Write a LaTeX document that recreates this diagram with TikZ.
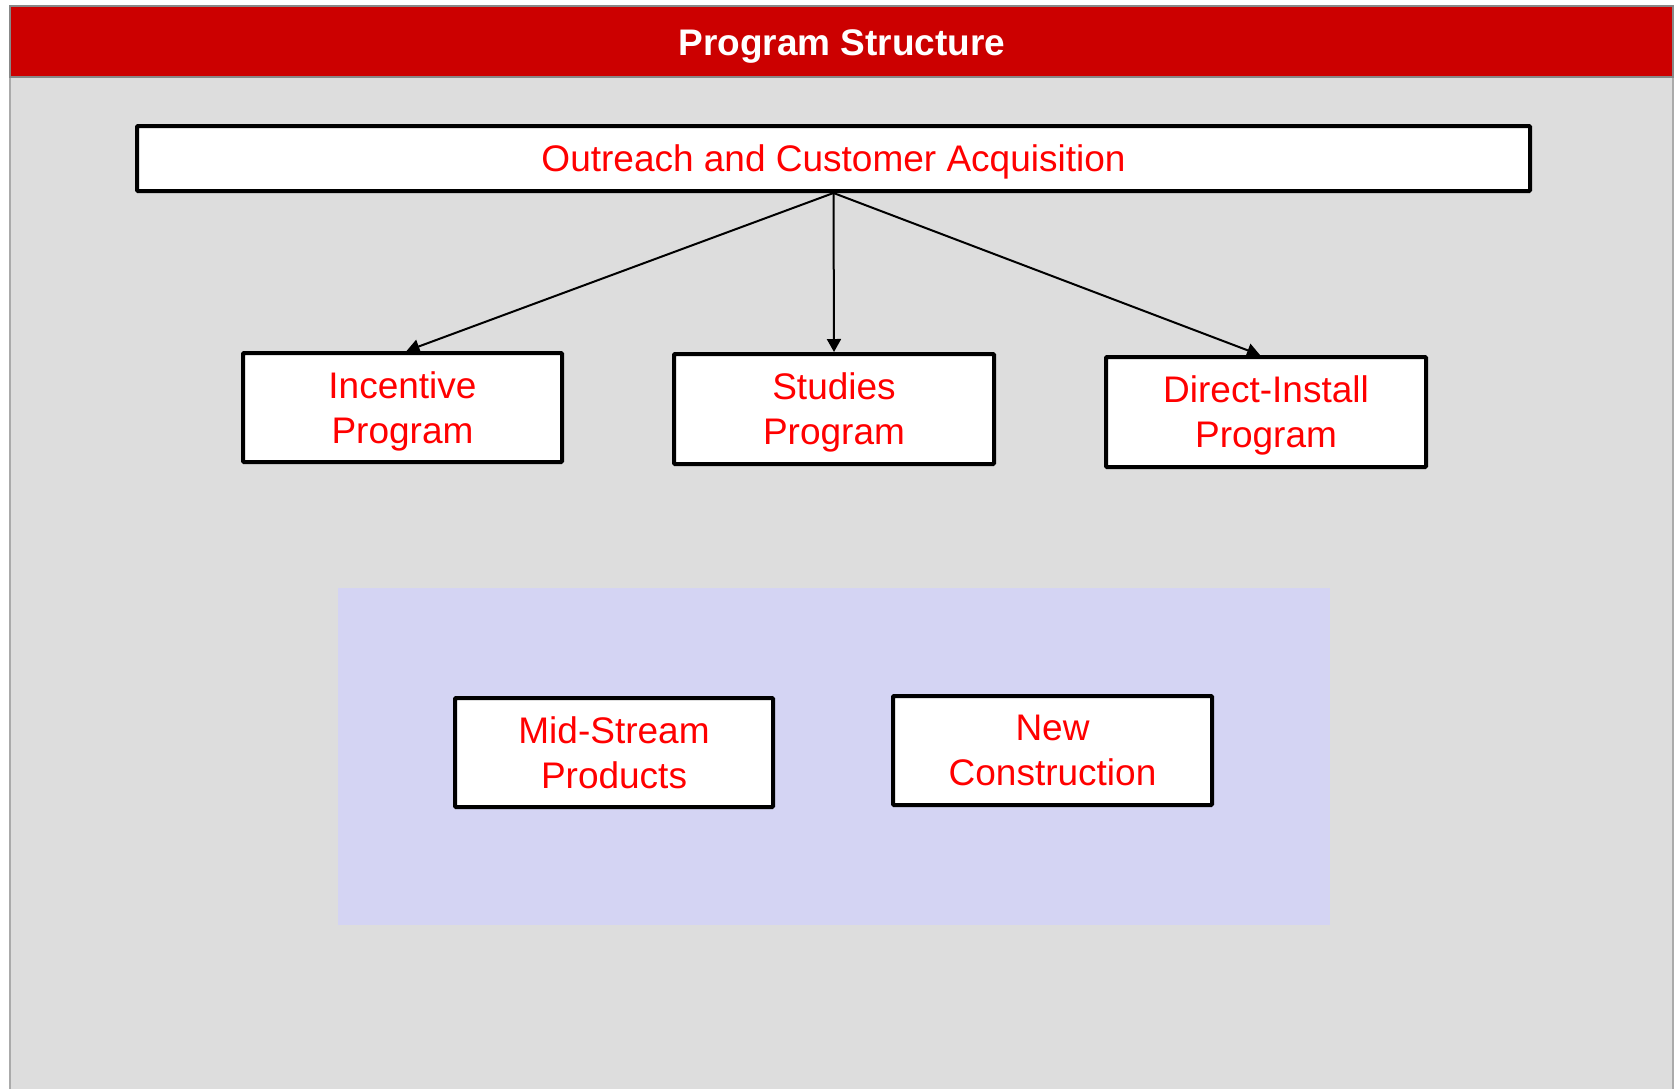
\documentclass[tikz,border=0pt]{standalone}
\usepackage{fontspec}
\setmainfont{Liberation Sans}
\usetikzlibrary{arrows.meta}
\definecolor{panelgray}{RGB}{221,221,221}
\definecolor{paneledge}{RGB}{170,170,170}
\definecolor{headred}{RGB}{204,0,0}
\definecolor{headedge}{RGB}{136,136,136}
\definecolor{lavender}{RGB}{212,212,243}
\definecolor{labelred}{RGB}{255,0,0}
\begin{document}
\begin{tikzpicture}[x=1pt,y=-1pt,
  progbox/.style={draw=black, line width=4pt, fill=white, rounded corners=1pt,
    text=labelred, align=center, inner sep=0pt, text depth=0pt,
    font=\fontsize{37}{45}\selectfont},
  link/.style={line width=2pt, -{Triangle[length=13pt,width=14pt]}}]
  \useasboundingbox (0,0) rectangle (1679,1088);
  \fill[white] (0,0) rectangle (1679,1088);
  % panel and title bar
  \filldraw[fill=panelgray, draw=paneledge, line width=2pt] (10,6) rectangle (1673,1100);
  \filldraw[fill=headred, draw=headedge, line width=1.5pt] (10,6) rectangle (1673,77);
  \node[text=white, text depth=0pt, font=\fontsize{37}{44}\selectfont\bfseries] (title) at (842,43) {Program Structure};
  % shaded group behind the lower programs
  \fill[lavender] (338,588) rectangle (1330,925);
  % boxes
  \node[progbox, minimum width=1393pt, minimum height=65pt] (outreach) at (833.5,158.5) {Outreach and Customer Acquisition};
  \node[progbox, minimum width=319pt, minimum height=109pt] (incentive) at (402.5,407.5) {Incentive\\Program};
  \node[progbox, minimum width=320pt, minimum height=110pt] (studies) at (834,409) {Studies\\Program};
  \node[progbox, minimum width=320pt, minimum height=110pt] (direct) at (1266,412) {Direct-Install\\Program};
  \node[progbox, minimum width=318pt, minimum height=109pt] (midstream) at (614,752.5) {Mid-Stream\\Products};
  \node[progbox, minimum width=319pt, minimum height=109pt] (newcons) at (1052.5,750.5) {New\\Construction};
  % connectors
  \draw[link] (outreach.south) -- ([xshift=4pt]incentive.north);
  \draw[link] (outreach.south) -- (studies.north);
  \draw[link] (outreach.south) -- ([xshift=-6pt]direct.north);
\end{tikzpicture}
\end{document}
